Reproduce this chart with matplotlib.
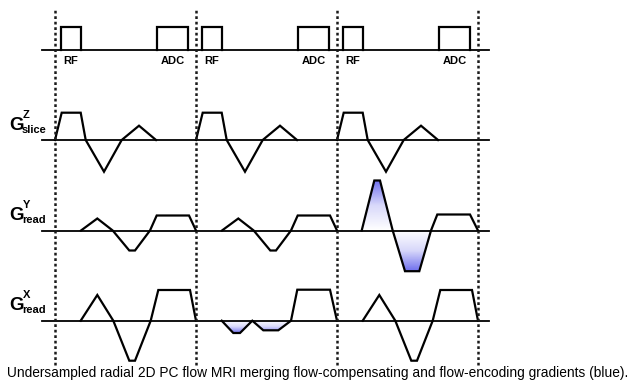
import numpy as np
import matplotlib.pyplot as plt
from matplotlib.patches import Polygon
from matplotlib.colors import LinearSegmentedColormap

plt.rcParams['font.family'] = ['Liberation Sans', 'DejaVu Sans']

# timing of one TR (arbitrary units), three TRs are shown
tr_len = 141
n_tr = 3

# RF pulse and ADC window (start, end) and their height
rf_pulse = [6, 26]
adc_window = [102, 133]
box_height = 23

# slice gradient, same in every TR
slice_t = [0, 6.7, 25.7, 30.7, 49, 66.7, 84, 101]
slice_amp = [0, 27.3, 27.3, 0, -31.7, 0, 14.3, 0]

# read gradient Y, normal TR
ready_t = [26, 42.3, 57.7, 74.3, 80, 95, 101.7, 134, 141]
ready_amp = [0, 12, 0, -20, -20, 0, 15, 15, 0]

# read gradient Y with flow encoding (TR 3)
ready_enc_t = [24.7, 37.3, 43, 55.7, 68, 82.3, 94, 100.3, 133, 141]
ready_enc_amp = [0, 50, 50, 0, -40.7, -40.7, 0, 16, 16, 0]

# read gradient X, normal TR
readx_t = [25.7, 42.3, 58.3, 74.3, 80, 95.7, 103.3, 135, 141]
readx_amp = [0, 25.7, 0, -40, -40, 0, 30.7, 30.7, 0]

# read gradient X with flow compensation (TR 2)
readx_comp_t = [25.7, 37.3, 44, 56.3, 67.3, 82.3, 95, 101.3, 134, 141]
readx_comp_amp = [0, -12.3, -12.3, 0, -9.6, -9.6, 0, 31, 31, 0]

# blue lobes end here (time inside the TR)
enc_end = 94
comp_end = 95

caption = ('Undersampled radial 2D PC flow MRI merging flow-compensating '
           'and flow-encoding gradients (blue).')

# layout (pixels, y up)
x0 = 55
rf_base = 339.5
slice_base = 249
y_base = 158.5
x_base = 68.3

blue = LinearSegmentedColormap.from_list('blue', ['white', '#d8d8fa', '#7070ee'])


def blue_fill(ax, t, a, t_end, base, shift):
    t = np.array(t)
    a = np.array(a)
    keep = t <= t_end + 1e-6
    tt = t[keep] + shift + x0
    aa = a[keep]
    poly = Polygon(list(zip(tt, aa + base)), closed=True,
                   facecolor='none', edgecolor='none')
    ax.add_patch(poly)
    top = max(aa.max(), 1e-6)
    bot = min(aa.min(), -1e-6)
    yy = np.linspace(bot, top, 300)
    vals = np.where(yy > 0, yy / top, yy / bot)
    img = np.repeat(vals[:, None], 2, axis=1)
    im = ax.imshow(img, extent=[tt.min(), tt.max(), bot + base, top + base],
                   origin='lower', cmap=blue, vmin=0, vmax=1,
                   aspect='auto', interpolation='bilinear', zorder=1)
    im.set_clip_path(poly)


fig = plt.figure(figsize=(6.31, 3.89), dpi=100)
ax = fig.add_axes([0, 0, 1, 1])
ax.axis('off')

line_kw = dict(color='black', lw=1.6, zorder=3, solid_joinstyle='miter')

# baselines
for base in [rf_base, slice_base, y_base, x_base]:
    ax.plot([42, 489], [base, base], color='black', lw=1.3, zorder=2)

for i in range(n_tr):
    s = i * tr_len + x0

    # RF and ADC boxes
    for (a, b), lab in zip([rf_pulse, adc_window], ['RF', 'ADC']):
        ax.plot([a + s, a + s, b + s, b + s],
                [rf_base, rf_base + box_height, rf_base + box_height, rf_base],
                **line_kw)
        ax.text((a + b) / 2 + s, 328, lab, ha='center', va='center',
                fontsize=8, fontweight='bold')

    ax.plot(np.array(slice_t) + s, np.array(slice_amp) + slice_base, **line_kw)

    if i == 2:
        ax.plot(np.array(ready_enc_t) + s, np.array(ready_enc_amp) + y_base, **line_kw)
        blue_fill(ax, ready_enc_t, ready_enc_amp, enc_end, y_base, i * tr_len)
    else:
        ax.plot(np.array(ready_t) + s, np.array(ready_amp) + y_base, **line_kw)

    if i == 1:
        ax.plot(np.array(readx_comp_t) + s, np.array(readx_comp_amp) + x_base, **line_kw)
        blue_fill(ax, readx_comp_t, readx_comp_amp, comp_end, x_base, i * tr_len)
    else:
        ax.plot(np.array(readx_t) + s, np.array(readx_amp) + x_base, **line_kw)

# TR boundaries
for i in range(n_tr + 1):
    xx = i * tr_len + x0
    ax.plot([xx, xx], [24, 381], color='#1a1a1a', lw=1.8,
            linestyle=(0, (1.1, 1.1)), zorder=4)

# gradient labels
for gy, sup, sub in [(259, 'Z', 'slice'), (169, 'Y', 'read'), (79, 'X', 'read')]:
    ax.text(9, gy, 'G', fontsize=13.5, fontweight='bold', ha='left', va='baseline')
    ax.text(22.5, gy + 12, sup, fontsize=8, fontweight='bold', ha='left', va='baseline')
    ax.text(22, gy - 3, sub, fontsize=8, fontweight='bold', ha='left', va='baseline')

ax.text(318, 16, caption, ha='center', va='center', fontsize=9.9)

ax.set_xlim(0, 631)
ax.set_ylim(0, 389)

fig.savefig('out.png', dpi=100)
